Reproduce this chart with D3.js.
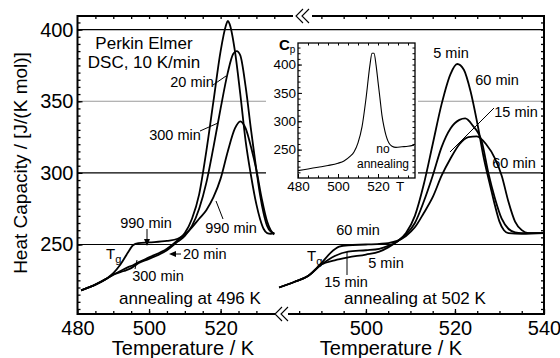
<!DOCTYPE html>
<html>
<head>
<meta charset="utf-8">
<script src="https://cdn.jsdelivr.net/npm/d3@7"></script>
<style>
  body {margin: 0; background: #fff}
  svg {font-family: "Liberation Sans", Arial, sans-serif; display: block}
</style>
</head>
<body>
<div id="chart"></div>
<script>
// annealing at 496 K
const t496 = [481, 485, 488, 490, 492, 494, 495.5, 497, 500, 505, 508, 510, 512, 514, 516, 518, 520, 521.5, 522, 522.5, 524, 525.5, 527, 528.5, 530, 531, 532, 533, 534, 535]
const cp_20min = [218, 222, 226, 229, 231.5, 234, 235.5, 237.5, 241, 247, 253, 258, 268, 285, 315, 350, 385, 403, 406, 404, 385, 355, 322, 298, 278, 268, 261, 258, 257.5, 258]
const t300 = [481, 485, 488, 490, 493, 495, 497, 500, 505, 508, 510, 512, 514, 516, 518, 520, 522, 523.5, 524.5, 525.5, 527, 528.5, 530, 531, 532, 533, 534, 535]
const cp_300min = [218, 222, 226, 229, 231.5, 233.5, 237, 240, 246, 252, 256, 263, 275, 293, 318, 345, 370, 383, 385, 382, 360, 330, 302, 285, 272, 263, 259, 258]
const t990 = [481, 485, 488, 490, 492, 494, 495.5, 497, 500, 505, 508, 510, 512, 514, 516, 518, 520, 522, 524, 525.5, 527, 528.5, 530, 531.5, 533, 534, 535]
const cp_990min = [218, 222, 226, 230, 236, 244, 249.5, 251, 251.5, 252.5, 254, 257, 262, 268, 274, 283, 296, 315, 331, 336, 331, 318, 302, 282, 266, 260, 257]

// annealing at 502 K
const t5 = [480.5, 484, 487, 490, 493, 496, 500, 503, 505, 507, 509, 511, 513, 515, 517, 519, 520.5, 522, 523.5, 525, 526.5, 528, 529, 530, 531, 532, 535, 540]
const cp_5min = [220, 224, 228, 236, 239, 241, 243, 245, 248, 252, 258, 270, 292, 320, 348, 369, 376, 372, 357, 335, 310, 290, 277, 266, 260, 258, 257.5, 258]
const t15 = [480.5, 484, 487, 490, 493, 496, 500, 503, 505, 507, 509, 511, 513, 515, 517, 519, 521, 522.3, 524, 526, 527.5, 529, 530.5, 532, 533.5, 535, 540]
const cp_15min = [220, 224, 228, 236, 242, 245, 246, 247, 249, 252, 257, 265, 280, 298, 318, 331, 337, 338, 333, 322, 300, 282, 268, 261, 258.5, 258, 258]
const t60 = [480.5, 484, 487, 490, 492, 494, 496, 500, 503, 505, 507, 509, 511, 513, 515, 517, 519, 521, 523, 524.9, 527, 529, 530.5, 532, 533.5, 535, 536.5, 540]
const cp_60min = [220, 224, 228, 237, 244, 248.5, 249.5, 250, 250.5, 251, 252.5, 256, 262, 272, 283, 298, 310, 320, 325, 325.5, 320, 310, 298, 280, 266, 260, 258, 258]

// inset: no annealing
const t_inset = [480, 485, 490, 495, 500, 503, 506, 508, 510, 512, 514, 516, 517, 518, 519, 520, 521, 522, 523, 524, 525, 526, 527, 529, 532, 535, 538]
const cp_inset = [213, 216, 219, 222, 226, 230, 238, 246, 262, 290, 340, 400, 420, 420, 400, 370, 340, 310, 290, 275, 265, 259, 256, 254, 255, 256, 258]

const cpTicks = [250, 300, 350, 400]
const insetTicks = [250, 300, 350, 400]
const leftTempTicks = [480, 500, 520]
const rightTempTicks = [500, 520, 540]
const insetTempTicks = [480, 500, 520]

const width = 560, height = 358
const svg = d3.select("#chart").append("svg").attr("width", width).attr("height", height)

const top_ = 16, bottom = 314, left = 77.5, right = 544
const y = d3.scaleLinear().domain([201.5, 409.5]).range([bottom, top_])
const xL = d3.scaleLinear().domain([480, 535.2]).range([left, 275])
const xLtop = xL.copy().domain([480, xL.invert(293)]).range([left, 293])
const xR = d3.scaleLinear().domain([482.5, 540]).range([288, right])
const xRtop = xR.copy().domain([xR.invert(312), 540]).range([312, right])

drawGrid()
drawCurves()
drawInset()
drawFrame()
drawLabels()

function drawGrid() {
  svg.append("g").selectAll("line").data(cpTicks).join("line")
    .attr("x1", left).attr("x2", right)
    .attr("y1", d => y(d)).attr("y2", d => y(d))
    .attr("stroke", d => d === 350 ? "#9a9a9a" : "#000").attr("stroke-width", 1.2)
}

function drawCurves() {
  const series = [
    {x: xL, t: t496, cp: cp_20min}, {x: xL, t: t300, cp: cp_300min}, {x: xL, t: t990, cp: cp_990min},
    {x: xR, t: t5, cp: cp_5min}, {x: xR, t: t15, cp: cp_15min}, {x: xR, t: t60, cp: cp_60min}
  ]
  series.forEach(s => {
    const line = d3.line().x(i => s.x(s.t[i])).y(i => y(s.cp[i])).curve(d3.curveMonotoneX)
    svg.append("path").attr("d", line(d3.range(s.t.length)))
      .attr("fill", "none").attr("stroke", "#000").attr("stroke-width", 1.8)
  })
}

function drawInset() {
  const xi = d3.scaleLinear().domain([480, 538.5]).range([298, 415])
  const yi = d3.scaleLinear().domain([200, 438]).range([178, 43])
  const g = svg.append("g")
  g.append("rect").attr("x", 266).attr("y", 33).attr("width", 152).attr("height", 162).attr("fill", "#fff")

  const line = d3.line().x(i => xi(t_inset[i])).y(i => yi(cp_inset[i])).curve(d3.curveMonotoneX)
  g.append("path").attr("d", line(d3.range(t_inset.length)))
    .attr("fill", "none").attr("stroke", "#000").attr("stroke-width", 1.1)

  const ax = (gen, tx, ty) => g.append("g").attr("transform", `translate(${tx},${ty})`).call(gen)
    .call(a => a.select(".domain").remove())
    .call(a => a.selectAll("text").attr("font-family", null).attr("font-size", 13.5))
    .call(a => a.selectAll("line").attr("stroke-width", 1))

  ax(d3.axisLeft(yi).tickValues(d3.range(210, 438, 10)).tickSize(-2.5).tickFormat(""), 298, 0)
  ax(d3.axisLeft(yi).tickValues(insetTicks).tickSize(-4).tickPadding(2), 298, 0)
  ax(d3.axisRight(yi).tickValues(d3.range(210, 438, 10)).tickSize(-2.5).tickFormat(""), 415, 0)
  ax(d3.axisBottom(xi).tickValues(d3.range(485, 538, 5)).tickSize(-2.5).tickFormat(""), 0, 178)
  ax(d3.axisBottom(xi).tickValues(insetTempTicks).tickSize(-4).tickPadding(3), 0, 178)
  ax(d3.axisTop(xi).tickValues(d3.range(485, 538, 5)).tickSize(-2.5).tickFormat(""), 0, 43)

  g.append("rect").attr("x", 298).attr("y", 43).attr("width", 117).attr("height", 135)
    .attr("fill", "none").attr("stroke", "#000").attr("stroke-width", 1.3)

  g.append("text").attr("x", xi(529)).attr("y", 178 + 3).attr("dy", "0.71em").attr("font-size", 13.5).text("T")
  const cpLabel = g.append("text").attr("x", 279).attr("y", 50).attr("font-size", 15).attr("font-weight", "bold")
  cpLabel.append("tspan").text("C")
  cpLabel.append("tspan").attr("font-size", 10).attr("font-weight", "normal").attr("dy", 3).text("p")
  g.append("text").attr("x", xi(522.5)).attr("y", 153).attr("text-anchor", "middle").attr("font-size", 12).text("no")
  g.append("text").attr("x", xi(522.5)).attr("y", 168).attr("text-anchor", "middle").attr("font-size", 12).text("annealing")
}

function drawFrame() {
  const ax = (gen, tx, ty, label) => svg.append("g").attr("transform", `translate(${tx},${ty})`).call(gen)
    .call(a => a.select(".domain").remove())
    .call(a => a.selectAll("text").attr("font-family", null).attr("font-size", 20))
    .call(a => a.selectAll("line").attr("stroke-width", 1.3))

  // bottom
  ax(d3.axisBottom(xL).tickValues(d3.range(485, 535, 5)).tickSize(-3).tickFormat(""), 0, bottom)
  ax(d3.axisBottom(xL).tickValues(leftTempTicks).tickSize(-5).tickPadding(7), 0, bottom)
  ax(d3.axisBottom(xR).tickValues(d3.range(485, 540, 5)).tickSize(-3).tickFormat(""), 0, bottom)
  ax(d3.axisBottom(xR).tickValues(rightTempTicks).tickSize(-5).tickPadding(7), 0, bottom)
  // top
  ax(d3.axisTop(xLtop).tickValues(d3.range(485, 540, 5)).tickSize(-3).tickFormat(""), 0, top_)
  ax(d3.axisTop(xRtop).tickValues(d3.range(490, 540, 5)).tickSize(-3).tickFormat(""), 0, top_)
  // left / right
  ax(d3.axisLeft(y).tickValues(d3.range(205, 409, 5)).tickSize(-3).tickFormat(""), left, 0)
  ax(d3.axisLeft(y).tickValues(cpTicks).tickSize(-5).tickPadding(4), left, 0)
  ax(d3.axisRight(y).tickValues(d3.range(205, 409, 5)).tickSize(-3).tickFormat(""), right, 0)

  const frame = svg.append("g").attr("fill", "none").attr("stroke", "#000").attr("stroke-width", 2)
  frame.append("path").attr("d", `M275,${bottom}H${left}V${top_}H293`)
  frame.append("path").attr("d", `M312,${top_}H${right}V${bottom}H288`)

  // axis break marks
  const brk = (x0, yc) => {
    frame.append("path").attr("stroke-width", 1.1)
      .attr("d", `M${x0 + 7},${yc - 7}L${x0},${yc}L${x0 + 7},${yc + 7}M${x0 + 13},${yc - 7}L${x0 + 6},${yc}L${x0 + 13},${yc + 7}`)
  }
  brk(275, bottom)
  brk(296, top_)
}

function drawLabels() {
  const txt = (x, yy, s, size, anchor) => svg.append("text").attr("x", x).attr("y", yy)
    .attr("dy", "0.35em").attr("font-size", size).attr("text-anchor", anchor || "middle").text(s)
  const seg = (x1, y1, x2, y2) => svg.append("line").attr("x1", x1).attr("y1", y1).attr("x2", x2).attr("y2", y2)
    .attr("stroke", "#000").attr("stroke-width", 1)
  const head = (x, yy, dir) => {
    const p = dir === "down" ? `M${x},${yy}L${x - 3},${yy - 7}L${x + 3},${yy - 7}Z` : `M${x},${yy}L${x + 7},${yy - 3}L${x + 7},${yy + 3}Z`
    svg.append("path").attr("d", p).attr("fill", "#000")
  }
  const tg = (x, yy) => {
    const t = svg.append("text").attr("x", x).attr("y", yy).attr("dy", "0.35em").attr("font-size", 15)
    t.append("tspan").text("T")
    t.append("tspan").attr("font-size", 11).attr("dy", 4).text("g")
  }

  svg.append("text").attr("transform", "translate(20,163) rotate(-90)").attr("dy", "0.35em")
    .attr("text-anchor", "middle").attr("font-size", 19).text("Heat Capacity / [J/(K mol)]")
  txt(183, 348, "Temperature / K", 20)
  txt(391, 348, "Temperature / K", 20)

  txt(144, 43, "Perkin Elmer", 17)
  txt(144, 62, "DSC, 10 K/min", 17)

  // 496 K panel
  txt(192, 82, "20 min", 14.5)
  seg(213, 85, 226, 76)
  txt(175, 135, "300 min", 14.5)
  seg(200, 131, 218, 123)
  txt(146, 223, "990 min", 14.5)
  seg(147, 229, 147, 240); head(147, 246, "down")
  txt(231, 228, "990 min", 14.5)
  seg(223, 219, 216, 201)
  seg(176, 254, 181, 254); head(169, 254, "left")
  txt(183, 254, "20 min", 14.5, "start")
  txt(158, 276, "300 min", 14.5)
  seg(135, 269, 137, 260)
  tg(106, 254)
  txt(190, 298, "annealing at 496 K", 17)

  // 502 K panel
  txt(451, 53, "5 min", 14.5)
  txt(497, 80, "60 min", 14.5)
  txt(516, 112, "15 min", 14.5)
  seg(494, 108, 450, 152)
  txt(514, 163, "60 min", 14.5)
  txt(358, 230, "60 min", 14.5)
  txt(386, 263, "5 min", 14.5)
  txt(346, 282, "15 min", 14.5)
  seg(347, 252, 347, 275)
  tg(307, 256)
  txt(415, 298, "annealing at 502 K", 17)
}
</script>
</body>
</html>
